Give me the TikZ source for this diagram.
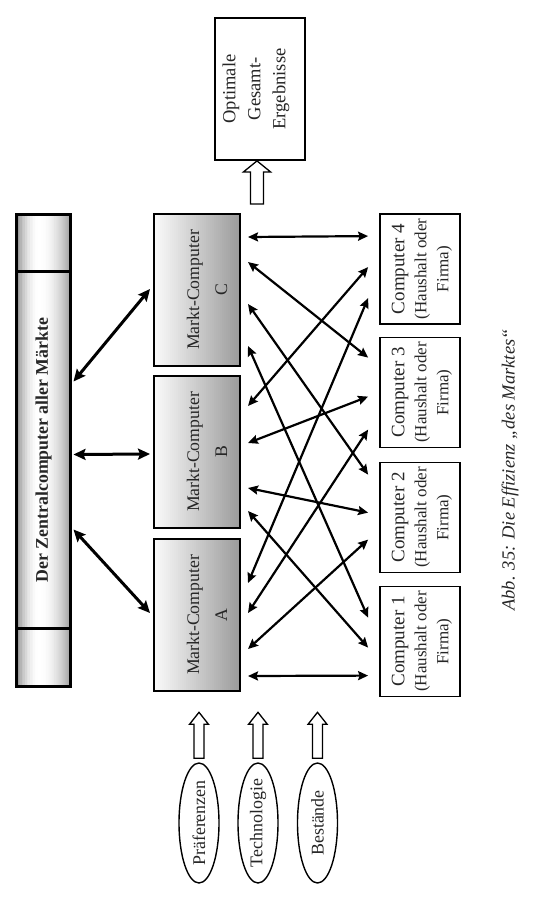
\documentclass[tikz,border=0pt]{standalone}
\usepackage{fontspec}
\setmainfont{Liberation Serif}
\usetikzlibrary{shapes.geometric,arrows.meta,calc}
\tikzset{
  pics/openarr/.style n args={4}{code={%
    \draw[line width=1.3pt, fill=white] (0,0) -- (#2/2,-#3) -- (#1/2,-#3) -- (#1/2,-#4)
      -- (-#1/2,-#4) -- (-#1/2,-#3) -- (-#2/2,-#3) -- cycle;}}
}
\begin{document}
\begin{tikzpicture}[x=1pt,y=1pt,
  txt/.style={text=black!85},
  rtext/.style={rotate=90, align=center, inner sep=0pt, txt},
  zbar/.style={draw=none, outer sep=0pt, minimum width=54pt, minimum height=472pt, inner sep=0pt},
  markt/.style={draw=none, outer sep=0pt, minimum width=86pt, minimum height=152pt, inner sep=0pt},
  comp/.style={draw, line width=1.8pt, fill=white, minimum width=80pt, minimum height=110pt, inner sep=0pt},
  optbox/.style={draw, line width=1.8pt, fill=white, minimum width=90pt, minimum height=142pt, inner sep=0pt},
  ell/.style={ellipse, draw, line width=1.4pt, minimum width=40pt, minimum height=120pt, inner sep=0pt},
  link/.style={line width=2.2pt, {Stealth[length=10pt,width=9pt,inset=1.5pt]}-{Stealth[length=10pt,width=9pt,inset=1.5pt]}},
  biglink/.style={line width=3pt, {Stealth[length=12pt,width=11pt,inset=2pt]}-{Stealth[length=12pt,width=11pt,inset=2pt]}},
]
\path[use as bounding box] (0,0) rectangle (540,-918);

% central bar (cylinder-like horizontal gradient)
\node[zbar] (Z) at (43.5,-450.5) {};
\foreach \i in {0,...,53}{
  \pgfmathsetmacro\ta{\i/54}
  \pgfmathsetmacro\tb{min(1,(\i+1.3)/54)}
  \pgfmathsetmacro\tm{(\i+0.5)/54}
  \pgfmathsetmacro\p{\tm<0.42 ? 100-92*((0.42-\tm)/0.42)^2 : 100-78*((\tm-0.42)/0.58)^2}
  \fill[white!\p!gray] ($(Z.south west)!\ta!(Z.south east)$) rectangle ($(Z.north west)!\tb!(Z.north east)$);
}
\draw[line width=3.2pt] (Z.south west) rectangle (Z.north east);
\draw[line width=2.4pt] ([shift={(0,-57)}]Z.north west) -- ([shift={(0,-57)}]Z.north east);
\draw[line width=2.4pt] ([shift={(0,58)}]Z.south west) -- ([shift={(0,58)}]Z.south east);
\node[rtext, font=\bfseries\fontsize{17.8}{21}\selectfont] (Zt) at (43.5,-450) {Der Zentralcomputer aller Märkte};

% market computers (linear gradient light -> grey)
\node[markt] (mC) at (197,-290) {};
\node[markt] (mB) at (197,-452) {};
\node[markt] (mA) at (197,-615) {};
\foreach \m in {mC,mB,mA}{
  \foreach \i in {0,...,42}{
    \pgfmathsetmacro\ta{\i/43}
    \pgfmathsetmacro\tb{min(1,(\i+1.3)/43)}
    \pgfmathsetmacro\p{97-75*(\i+0.5)/43}
    \fill[white!\p!gray] ($(\m.south west)!\ta!(\m.south east)$) rectangle ($(\m.north west)!\tb!(\m.north east)$);
  }
  \draw[line width=1.8pt] (\m.south west) rectangle (\m.north east);
}
\node[rtext, font=\fontsize{17.7}{28}\selectfont] (mCt) at (207,-290) {Markt-Computer\\C};
\node[rtext, font=\fontsize{17.7}{28}\selectfont] (mBt) at (207,-452) {Markt-Computer\\B};
\node[rtext, font=\fontsize{17.7}{28}\selectfont] (mAt) at (207,-615) {Markt-Computer\\A};

% computers
\node[comp] (K4) at (420,-269) {};
\node[comp] (K3) at (420,-392.5) {};
\node[comp] (K2) at (420,-517.5) {};
\node[comp] (K1) at (420,-641.5) {};
\foreach \k/\n in {K4/4,K3/3,K2/2,K1/1}{
  \node[rtext, font=\fontsize{17}{22}\selectfont] (\k t) at ([shift={(2,0)}]\k.center)
    {{\fontsize{19}{23}\selectfont Computer \n}\\(Haushalt oder\\Firma)};
}

% optimal results
\node[optbox] (opt) at (260,-89) {};
\node[rtext, font=\fontsize{18.5}{25}\selectfont] (optt) at (256,-89) {Optimale\\Gesamt-\\Ergebnisse};
\pic at ([shift={(-3,0)}]opt.south) {openarr={13}{27}{11}{43}};

% inputs
\node[ell] (e1) at (199,-823) {};
\node[ell] (e2) at (258,-823) {};
\node[ell] (e3) at (317.5,-823) {};
\node[rtext, font=\fontsize{17.9}{21}\selectfont] (e1t) at (e1) {Präferenzen};
\node[rtext, font=\fontsize{17.9}{21}\selectfont] (e2t) at (e2) {Technologie};
\node[rtext, font=\fontsize{17.9}{21}\selectfont] (e3t) at (e3) {Bestände};
\foreach \e in {e1,e2,e3}{
  \pic at ([shift={(0,50)}]\e.north) {openarr={10}{19}{12}{46}};
}

% central <-> markets
\draw[biglink] ([shift={(3,-167)}]Z.north east) -- ([shift={(-4,-75)}]mC.north west);
\draw[biglink] ([shift={(3,-240)}]Z.north east) -- ([shift={(-4,-78)}]mB.north west);
\draw[biglink] ([shift={(3,-315)}]Z.north east) -- ([shift={(-4,-74)}]mA.north west);

% markets <-> computers
\foreach \m/\a/\k/\b in {mC/23/K4/23, mC/48/K3/21, mC/90/K2/13, mC/132/K1/32,
                          mB/30/K4/54, mB/67/K3/60, mB/112/K2/51, mB/135/K1/62,
                          mA/44/K4/85, mA/74/K3/93, mA/110/K2/78, mA/137/K1/90}{
  \draw[link] ([shift={(8,-\a)}]\m.north east) -- ([shift={(-11,-\b)}]\k.north west);
}

% caption
\node[rtext, font=\itshape\fontsize{18.5}{22}\selectfont] (cap) at (510,-470) {Abb. 35: Die Effizienz „des Marktes“};
\end{tikzpicture}
\end{document}
